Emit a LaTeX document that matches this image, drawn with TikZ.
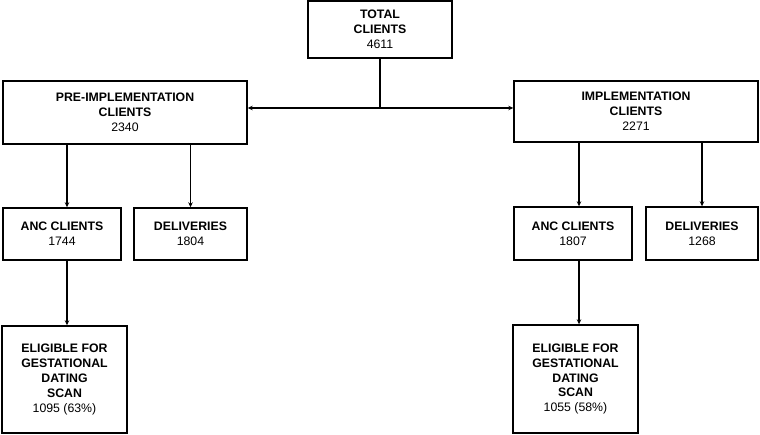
\documentclass[tikz,border=0pt]{standalone}
\usepackage{fontspec}
\setmainfont{Liberation Sans}
\usetikzlibrary{positioning,calc,arrows.meta}
\tikzset{
	box/.style={draw=black,line width=1.4pt,fill=white,align=center,inner sep=2pt,font=\fontsize{12.3}{14.8}\selectfont},
	arr/.style={-{Stealth[length=5pt,width=4.5pt]},line width=1.2pt}
}
\begin{document}
\begin{tikzpicture}[x=1pt,y=-1pt]
		\useasboundingbox (0,0) rectangle (760,435);
		\node[box,minimum width=144pt,minimum height=57pt] (total) at (380,29.5) {\textbf{TOTAL}\\\textbf{CLIENTS}\\4611};
		\node[box,minimum width=244pt,minimum height=63pt] (pre) at (125,112.5) {\textbf{PRE-IMPLEMENTATION}\\\textbf{CLIENTS}\\2340};
		\node[box,minimum width=244pt,minimum height=61pt] (impl) at (636,111.5) {\textbf{IMPLEMENTATION}\\\textbf{CLIENTS}\\2271};
		\node[box,minimum width=118pt,minimum height=52pt] (preanc) at (62,234) {\textbf{ANC CLIENTS}\\1744};
		\node[box,minimum width=113pt,minimum height=52pt] (predel) at (190.5,234) {\textbf{DELIVERIES}\\1804};
		\node[box,minimum width=118pt,minimum height=53pt] (impanc) at (573,233.5) {\textbf{ANC CLIENTS}\\1807};
		\node[box,minimum width=112pt,minimum height=53pt] (impdel) at (702,233.5) {\textbf{DELIVERIES}\\1268};
		\node[box,minimum width=125pt,minimum height=107pt] (preelig) at (64.5,379.5) {\textbf{ELIGIBLE FOR}\\\textbf{GESTATIONAL}\\\textbf{DATING}\\\textbf{SCAN}\\1095 (63\%)};
		\node[box,minimum width=125pt,minimum height=108pt] (impelig) at (575.5,379) {\textbf{ELIGIBLE FOR}\\\textbf{GESTATIONAL}\\\textbf{DATING}\\\textbf{SCAN}\\1055 (58\%)};
		\coordinate (split) at (380,108);
		
		\draw[line width=1.2pt] (total.south) -- (split);
		\draw[arr] (split) -- (pre.east |- split);
		\draw[arr] (split) -- (impl.west |- split);
		\draw[arr] ([xshift=5pt]pre.south -| preanc.north) -- ([xshift=5pt]preanc.north);
		\draw[arr] (pre.south -| predel.north) -- (predel.north);
		\draw[arr] ([xshift=6pt]impl.south -| impanc.north) -- ([xshift=6pt]impanc.north);
		\draw[arr] (impl.south -| impdel.north) -- (impdel.north);
		\draw[arr] ([xshift=5pt]preanc.south) -- ([xshift=5pt]preanc.south |- preelig.north);
		\draw[arr] ([xshift=6pt]impanc.south) -- ([xshift=6pt]impanc.south |- impelig.north);
	\end{tikzpicture}
\end{document}
